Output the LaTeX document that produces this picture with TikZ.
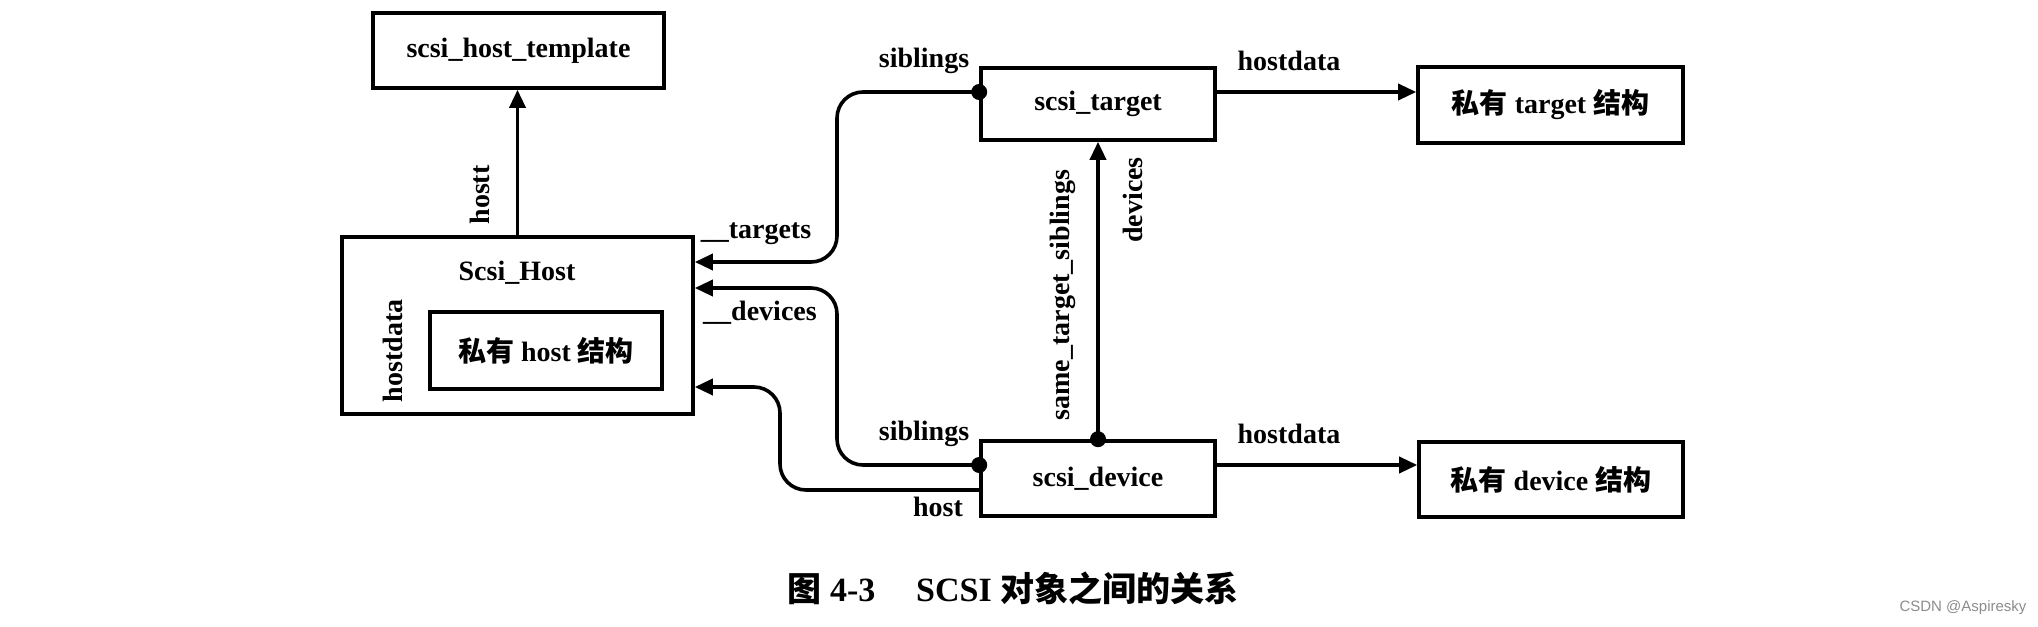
\documentclass[tikz,border=0pt]{standalone}
\usepackage{fontspec}
\setmainfont{Liberation Serif}
\newfontfamily\cjk{Noto Sans CJK SC}
\newfontfamily\wmfont{Liberation Sans}
\usepackage{tikz}
\usetikzlibrary{arrows.meta, positioning, calc}

\tikzset{
  box/.style={draw, line width=1.8pt, inner sep=0pt, font=\bfseries\fontsize{14}{16}\selectfont},
  lbl/.style={inner sep=0pt, font=\bfseries\fontsize{14}{16}\selectfont},
  link/.style={line width=1.8pt, rounded corners=13pt, -{Triangle[length=9pt,width=8pt]}},
}

\begin{document}
\begin{tikzpicture}[x=0.5pt, y=-0.5pt]
  \useasboundingbox (0,0) rectangle (2038,626);
  % Boxes
  \node[box, minimum width=145.5pt, minimum height=37.5pt] (tmpl) at (518.5,50.5) {scsi\_host\_template};
  \node[box, minimum width=175.5pt, minimum height=88.5pt] (host) at (517.5,325.5) {};
  \node[box, minimum width=116pt, minimum height=38.5pt] (hpriv) at (546,350.5) {{\cjk 私有} host {\cjk 结构}};
  \node[box, minimum width=117pt, minimum height=36pt] (target) at (1098,104) {scsi\_target};
  \node[box, minimum width=117pt, minimum height=37.5pt] (device) at (1098,478.5) {scsi\_device};
  \node[box, minimum width=132.5pt, minimum height=38pt] (tpriv) at (1550.5,105) {{\cjk 私有} target {\cjk 结构}};
  \node[box, minimum width=132pt, minimum height=37.5pt] (dpriv) at (1551,479.5) {{\cjk 私有} device {\cjk 结构}};
  \node[lbl] (hname) at (517,273) {Scsi\_Host};
  % Link ends
  \coordinate (tsib) at (target.west |- 0,92);
  \coordinate (dsib) at (device.west |- 0,465);
  \coordinate (dhost) at (device.west |- 0,490);
  \coordinate (dsame) at (device.north);
  % Links
  \draw[link] (host.north) -- (host.north |- tmpl.south);
  \draw[link] (tsib) -| (837,262) -- (host.east |- 0,262);
  \draw[link] (dsib) -| (837,288) -- (host.east |- 0,288);
  \draw[link] (dhost) -| (780,387) -- (host.east |- 0,387);
  \draw[link] (dsame) -- (dsame |- target.south);
  \draw[link] (target.east |- 0,92) -- (tpriv.west |- 0,92);
  \draw[link] (device.east |- 0,465) -- (dpriv.west |- 0,465);
  \foreach \p in {tsib, dsib, dsame}
    \fill (\p) circle (4pt);
  % Labels
  \node[lbl, rotate=90] (lhostt) at (480,195) {hostt};
  \node[lbl, rotate=90] (lhdata) at (393,351) {hostdata};
  \node[lbl] (ltargets) at (756,234) {\_\_targets};
  \node[lbl] (ldevices) at (760,313) {\_\_devices};
  \node[lbl] (lsibt) at (924,61) {siblings};
  \node[lbl] (lsibd) at (924,434) {siblings};
  \node[lbl] (lhost) at (938,507) {host};
  \node[lbl, rotate=90] (lsame) at (1063,295) {same\_target\_siblings};
  \node[lbl, rotate=90] (ldevs) at (1133,200) {devices};
  \node[lbl] (lhdt) at (1289,61) {hostdata};
  \node[lbl] (lhdd) at (1289,434) {hostdata};
  % Caption
  \node[inner sep=0pt, font=\bfseries\fontsize{17}{19}\selectfont] (cap) at (1013,588)
    {{\cjk 图} 4-3\hspace{1.2em}SCSI {\cjk 对象之间的关系}};
  \node[inner sep=0pt, text=black!45, font=\wmfont\fontsize{7.5}{9}\selectfont] (wm) at (1963,608) {CSDN @Aspiresky};
\end{tikzpicture}
\end{document}
